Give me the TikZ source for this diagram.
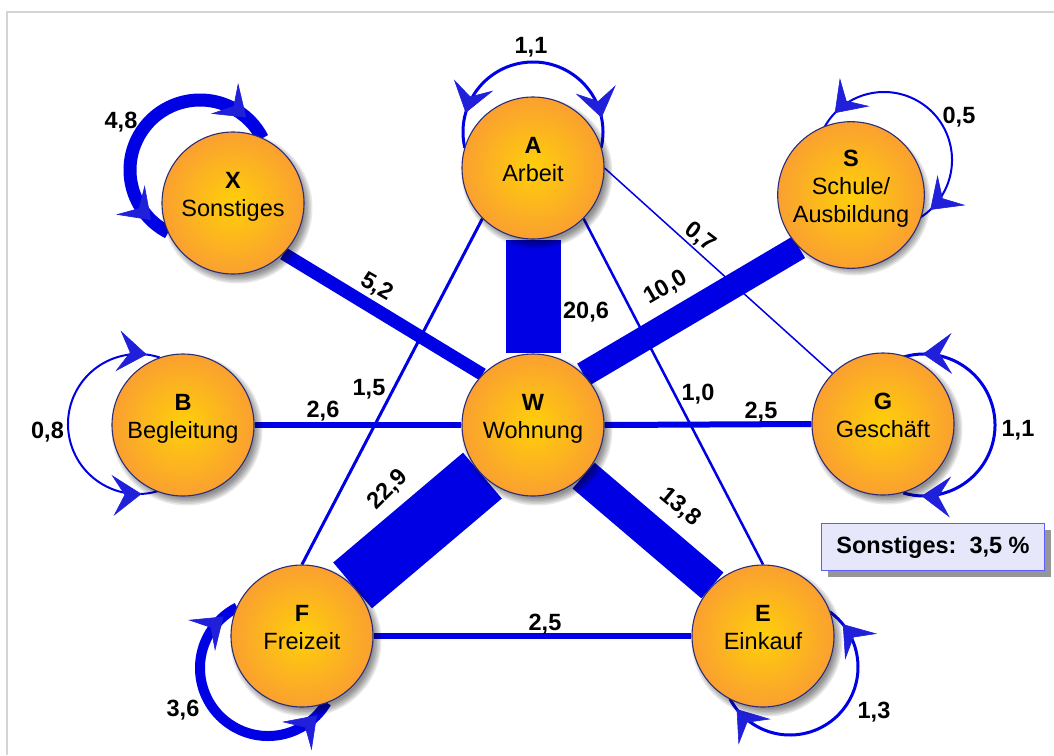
\documentclass[tikz,border=0pt]{standalone}
\usepackage{fontspec}
\setmainfont{Liberation Sans}
\usetikzlibrary{arrows.meta,decorations.markings,shadows}

\definecolor{edgeblue}{RGB}{0,0,228}
\definecolor{headblue}{RGB}{32,32,218}
\definecolor{orbIn}{RGB}{255,207,10}
\definecolor{orbOut}{RGB}{250,160,48}
\definecolor{orbRim}{RGB}{44,44,120}
\definecolor{frameGray}{RGB}{212,212,212}
\definecolor{noteFill}{RGB}{231,231,252}
\definecolor{noteRim}{RGB}{92,92,255}
\definecolor{noteShade}{RGB}{150,150,150}

\pgfdeclarelayer{links}
\pgfsetlayers{links,main}

% soft drop shadow under a station circle
\newcommand{\orbshadow}[2]{%
  \foreach \k in {0,1.5,...,7.5}{%
    \pgfmathsetmacro{\rr}{68+\k}%
    \fill[black, opacity=0.09] (#1+4,#2+5) circle[radius=\rr pt];}}

% self loop: centre x, centre y, radius, start, end, width, tip positions
\newcommand{\selfloop}[8]{%
  \draw[edgeblue, line width=#6, twoheads={#7}{#8}]
    (#1,#2) ++(#4:#3) arc[start angle=#4, end angle=#5, radius=#3];}

\tikzset{
  orb/.style={circle, minimum size=142pt, inner sep=0pt, draw=orbRim,
    line width=1.1pt, inner color=orbIn, outer color=orbOut,
    align=center, font=\fontsize{23.5}{28}\selectfont},
  bar/.style={draw=edgeblue, line cap=butt},
  val/.style={font=\fontsize{23.5}{28}\selectfont\bfseries, inner sep=0pt},
  note/.style={draw=noteRim, line width=1.2pt, fill=noteFill,
    minimum width=223pt, minimum height=47pt, inner sep=0pt,
    font=\fontsize{23.5}{28}\selectfont\bfseries,
    drop shadow={shadow xshift=6pt, shadow yshift=-6pt, fill=noteShade, opacity=1}},
  twoheads/.style n args={2}{postaction={decorate, decoration={markings,
    mark=at position #1 with {\arrowreversed{>}},
    mark=at position #2 with {\arrow{>}}}}},
}

\begin{document}
\begin{tikzpicture}[x=1pt, y=-1pt,
  >={Stealth[length=29pt, width=41pt, inset=12pt, line width=0.6pt, color=headblue]}]
\useasboundingbox (0,0) rectangle (1054,755);

% shadows, then the stations
\orbshadow{533}{425}
\orbshadow{533}{168}
\orbshadow{233}{203}
\orbshadow{851}{195}
\orbshadow{183}{425}
\orbshadow{883}{424}
\orbshadow{302}{636}
\orbshadow{763}{636}

\node[orb] (W) at (533,425) {\textbf{W}\\Wohnung\rule[-16.8pt]{0pt}{16.8pt}};
\node[orb] (A) at (533,168) {\textbf{A}\\Arbeit\rule[-16.8pt]{0pt}{16.8pt}};
\node[orb] (X) at (233,203) {\textbf{X}\\Sonstiges\rule[-16.8pt]{0pt}{16.8pt}};
\node[orb] (S) at (851,195) {\textbf{S}\\Schule/\\Ausbildung\rule[-16.8pt]{0pt}{16.8pt}};
\node[orb] (B) at (183,425) {\textbf{B}\\Begleitung\rule[-16.8pt]{0pt}{16.8pt}};
\node[orb] (G) at (883,424) {\textbf{G}\\Geschäft\rule[-16.8pt]{0pt}{16.8pt}};
\node[orb] (F) at (302,636) {\textbf{F}\\Freizeit\rule[-16.8pt]{0pt}{16.8pt}};
\node[orb] (E) at (763,636) {\textbf{E}\\Einkauf\rule[-16.8pt]{0pt}{16.8pt}};

\begin{pgfonlayer}{links}
  % frame
  \draw[frameGray, line width=1.5pt] (1054,12) -- (7,12) -- (7,755);
  % flows between stations
  \draw[bar, line width=55pt] (W.90) -- (A.270);
  \draw[bar, line width=25pt] (W.45) -- (S.225);
  \draw[bar, line width=13pt] (W.135) -- (X.315);
  \draw[bar, line width=6pt] (W.180) -- (B.0);
  \draw[bar, line width=6pt] (W.0) -- (G.180);
  \draw[bar, line width=60pt] (W.225) -- (F.45);
  \draw[bar, line width=34pt] (W.315) -- (E.135);
  \draw[bar, line width=6pt] (F.0) -- (E.180);
  \draw[bar, line width=3pt] (A.225) -- (F.90);
  \draw[bar, line width=2.5pt] (A.315) -- (E.90);
  \draw[bar, line width=1.5pt] (A.0) -- (G.135);
  % trips that return to the same station
  \selfloop{533}{132}{70}{167}{373}{3pt}{0.14}{0.88}
  \selfloop{200}{170}{70}{117}{333}{13pt}{0.08}{0.90}
  \selfloop{884}{160}{68}{206.5}{420}{2pt}{0.08}{0.94}
  \selfloop{924}{425}{71}{253}{467}{3pt}{0.075}{0.93}
  \selfloop{138}{424}{70}{72}{288}{2pt}{0.07}{0.95}
  \selfloop{268}{668}{68}{30.6}{243}{10pt}{0.063}{0.935}
  \selfloop{790}{667}{68}{-54.3}{152}{3pt}{0.074}{0.95}
\end{pgfonlayer}

% shares in percent
\node[val, anchor=base] (vA) at (531,53) {1,1};
\node[val, anchor=base] (vX) at (121,128) {4,8};
\node[val, anchor=base] (vS) at (959,123) {0,5};
\node[val, anchor=base] (vG) at (1018,436) {1,1};
\node[val, anchor=base] (vB) at (47.5,438) {0,8};
\node[val, anchor=base] (vF) at (183,716) {3,6};
\node[val, anchor=base] (vE) at (874,718) {1,3};
\node[val, anchor=base] (vWA) at (586,318) {20,6};
\node[val, anchor=base] (vAF) at (369,395) {1,5};
\node[val, anchor=base] (vWB) at (323,417) {2,6};
\node[val, anchor=base] (vAE) at (698,400) {1,0};
\node[val, anchor=base] (vWG) at (761,418) {2,5};
\node[val, anchor=base] (vFE) at (545,630) {2,5};
\node[val, rotate=-30] (vWX) at (377,287) {5,2};
\node[val, rotate=30] (vWS) at (666,288) {10,0};
\node[val, rotate=-37] (vAG) at (700,237) {0,7};
\node[val, rotate=45] (vWF) at (388,490) {22,9};
\node[val, rotate=-40] (vWE) at (680,507) {13,8};

\node[note] (misc) at (933,547) {Sonstiges:\ \ 3,5 \%};
\end{tikzpicture}
\end{document}
